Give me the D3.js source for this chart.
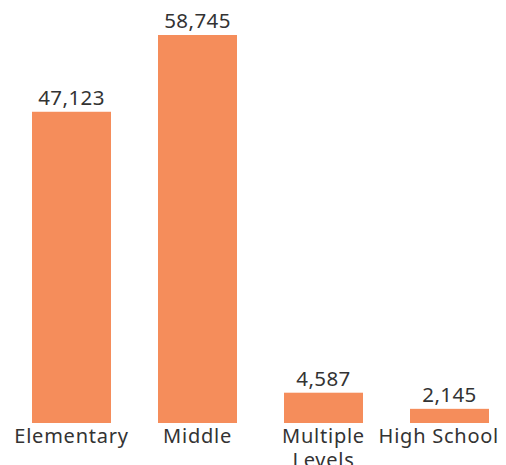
<!DOCTYPE html>
<html><head><meta charset="utf-8">
<script src="https://cdn.jsdelivr.net/npm/d3@7"></script>
<style>body{margin:0;background:#fff}svg{display:block}</style>
</head><body>
<svg id="c" width="506" height="465"></svg>
<script>
const categories = ["Elementary", "Middle", "Multiple Levels", "High School"];
const values = [47123, 58745, 4587, 2145];
const categoryLines = [["Elementary"], ["Middle"], ["Multiple", "Levels"], ["High School"]];

const W = 506, H = 465, baseY = 423;
const svg = d3.select("#c");
const x = d3.scaleBand().domain(categories).range([8.5, 512.5]).paddingInner(0.373).paddingOuter(0.1865);
const y = d3.scaleLinear().domain([0, 58745]).range([baseY, 35]);
const font = "'Noto Sans', 'Open Sans', sans-serif";

svg.selectAll("rect.bar").data(values).join("rect")
  .attr("class", "bar")
  .attr("x", (d, i) => x(categories[i]))
  .attr("width", x.bandwidth())
  .attr("y", d => y(d))
  .attr("height", d => baseY - y(d))
  .attr("fill", "#F58D5B");

svg.selectAll("text.val").data(values).join("text")
  .attr("class", "val")
  .attr("x", (d, i) => x(categories[i]) + x.bandwidth() / 2)
  .attr("y", d => y(d) - 7)
  .attr("text-anchor", "middle")
  .attr("font-family", font).attr("font-size", 20.5).attr("letter-spacing", 0.4).attr("fill", "#333")
  .text(d => d3.format(",")(d));

const cat = svg.selectAll("text.cat").data(categories).join("text")
  .attr("class", "cat")
  .attr("text-anchor", "middle")
  .attr("font-family", font).attr("font-size", 20).attr("letter-spacing", 0.75).attr("fill", "#333")
  .attr("y", baseY + 20);
cat.each(function(d, i) {
  const t = d3.select(this);
  const cx = x(d) + x.bandwidth() / 2;
  categoryLines[i].forEach((ln, j) => {
    t.append("tspan").attr("x", cx).attr("dy", j === 0 ? 0 : 24).text(ln);
  });
  const bb = this.getBBox();
  if (bb.x + bb.width > W - 7) {
    const shift = bb.x + bb.width - (W - 7);
    t.selectAll("tspan").attr("x", cx - shift);
  }
});
</script>
</body></html>
